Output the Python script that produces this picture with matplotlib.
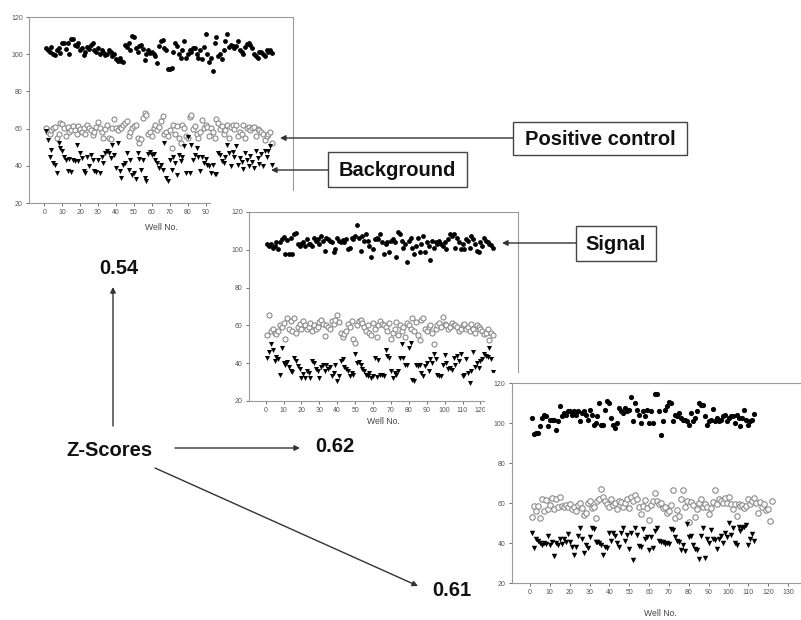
import matplotlib.pyplot as plt
from matplotlib.patches import Rectangle

plt.rcParams['font.family'] = ['Liberation Sans', 'DejaVu Sans']

# ---- data: three plates, well number vs. signal ----
sig1 = [103.5, 102.5, 101, 103.8, 100.2, 99.6, 102.3, 103.1, 100.4, 105.8,
        106.2, 102.9, 105.9, 100.3, 108.4, 108.1, 104.9, 104.2, 106.0, 102.1,
        103.4, 99.7, 101.2, 104.1, 103.0, 105.2, 106.1, 102.4, 101.3, 103.2,
        100.2, 102.2, 101.1, 99.6, 100.3, 102.1, 101.0, 99.1, 100.1, 97.2,
        96.1, 98.0, 96.3, 95.6, 105.2, 104.0, 106.2, 102.1, 109.6, 109.0,
        103.1, 101.2, 104.3, 105.1, 103.0, 97.1, 100.2, 102.1, 100.6, 101.0,
        100.1, 99.0, 95.4, 104.2, 107.0, 107.6, 103.1, 102.0, 92.1, 92.2,
        92.6, 101.1, 106.0, 104.2, 100.1, 98.2, 102.0, 107.3, 98.1, 100.2,
        102.0, 101.1, 103.2, 103.5, 100.2, 98.1, 102.2, 97.2, 104.0, 111.0,
        100.1, 96.0, 98.1, 91.0, 106.2, 109.4, 99.1, 100.3, 97.6, 102.0,
        107.1, 110.6, 104.1, 105.0, 104.2, 103.1, 104.3, 107.2, 102.1, 101.0,
        100.2, 104.1, 105.3, 106.1, 105.0, 103.2, 100.1, 99.2, 98.1, 101.0,
        101.2, 100.1, 99.0, 102.5, 101.1, 102.3, 100.5]
ctrl1 = [60.3, 58.1, 57.2, 59.0, 60.4, 61.1, 55.0, 57.3, 62.8, 62.5,
         60.1, 56.2, 61.0, 58.2, 59.1, 61.6, 59.0, 57.1, 61.2, 60.0,
         58.3, 60.2, 57.0, 62.1, 60.1, 59.2, 56.3, 58.0, 61.1, 63.8,
         60.2, 58.1, 55.2, 60.0, 62.2, 55.1, 54.3, 60.1, 64.9, 60.2,
         59.1, 61.0, 60.2, 62.0, 63.1, 64.0, 56.1, 58.0, 60.2, 61.2,
         61.8, 55.1, 52.3, 54.2, 65.7, 68.2, 67.1, 57.3, 58.0, 56.2,
         60.1, 62.0, 59.3, 61.0, 64.1, 66.6, 57.2, 58.1, 56.0, 59.2,
         49.6, 62.1, 57.0, 61.2, 55.1, 52.3, 62.0, 60.1, 56.2, 55.0,
         66.2, 67.1, 60.0, 61.2, 57.1, 55.2, 58.0, 64.4, 60.1, 62.0,
         61.1, 56.0, 60.2, 58.1, 55.0, 65.0, 63.1, 60.0, 61.2, 57.0,
         59.1, 62.0, 55.2, 61.1, 62.2, 60.0, 62.1, 56.2, 58.0, 57.1,
         62.0, 55.1, 60.2, 61.0, 59.2, 60.1, 61.0, 56.1, 60.0, 59.1,
         58.0, 57.2, 54.1, 56.2, 57.0, 58.1, 52.3]
bg1 = [58.5, 53.7, 45.0, 48.7, 41.5, 40.6, 36.0, 52.3, 49.6, 47.8,
       45.0, 43.3, 37.0, 43.8, 36.5, 43.3, 42.8, 51.4, 42.4, 46.9,
       44.1, 37.0, 36.0, 45.0, 39.7, 46.0, 43.2, 37.0, 36.5, 43.3,
       36.0, 45.0, 41.5, 46.9, 47.8, 46.9, 44.2, 51.4, 46.0, 38.8,
       52.3, 37.0, 33.4, 40.6, 41.5, 46.9, 38.0, 43.3, 35.2, 36.0,
       33.0, 46.9, 43.7, 38.0, 43.3, 33.4, 31.6, 46.5, 47.2, 46.0,
       46.5, 43.3, 41.5, 38.8, 40.6, 37.6, 52.3, 33.4, 31.6, 43.3,
       38.0, 45.0, 41.5, 35.2, 46.0, 42.4, 45.0, 50.5, 36.0, 55.5,
       36.0, 51.4, 43.3, 46.0, 49.6, 45.0, 37.0, 45.0, 41.5, 43.7,
       40.6, 39.7, 36.0, 40.6, 35.8, 35.8, 46.9, 46.0, 42.4, 41.5,
       45.0, 51.4, 46.9, 39.7, 47.2, 45.0, 50.5, 40.2, 44.1, 42.0,
       38.5, 47.0, 43.0, 40.1, 45.5, 42.2, 39.0, 48.0, 44.0, 41.2,
       46.5, 39.8, 47.9, 44.6, 48.2, 50.5, 40.2]

sig2 = [103.0, 102.1, 103.0, 101.2, 102.1, 103.9, 100.4, 103.9, 105.6, 106.8,
        97.7, 105.1, 97.7, 106.5, 97.7, 108.2, 109.1, 103.0, 102.1, 103.0,
        103.9, 102.1, 105.6, 103.0, 103.3, 102.1, 106.5, 104.7, 105.6, 103.0,
        107.4, 104.7, 99.5, 106.5, 105.6, 104.7, 103.9, 98.6, 100.4, 106.5,
        104.7, 103.9, 105.1, 103.9, 105.6, 100.4, 101.2, 106.5, 105.6, 107.4,
        113.0, 106.5, 99.5, 107.4, 104.7, 108.2, 104.7, 102.1, 96.0, 100.4,
        105.6, 106.5, 105.6, 108.2, 103.9, 97.7, 103.0, 103.9, 98.6, 104.7,
        105.6, 103.9, 96.0, 109.6, 108.2, 104.7, 101.2, 103.0, 93.7, 104.7,
        106.5, 101.2, 97.7, 102.1, 106.5, 98.6, 103.0, 107.4, 98.6, 103.9,
        102.1, 94.6, 104.7, 101.2, 103.9, 103.0, 104.7, 103.0, 102.1, 103.9,
        100.4, 105.6, 108.2, 107.4, 108.2, 101.2, 106.5, 103.9, 100.4, 103.0,
        100.4, 105.6, 104.7, 101.2, 107.4, 105.6, 103.0, 99.5, 98.6, 103.9,
        102.1, 106.5, 104.7, 103.9, 103.0, 102.6, 101.2]
ctrl2 = [55.0, 65.6, 57.2, 58.1, 56.0, 55.2, 57.1, 60.3, 59.0, 61.2,
         53.0, 64.1, 58.0, 62.1, 57.2, 64.0, 56.1, 59.2, 61.0, 58.2,
         62.2, 60.1, 58.0, 59.3, 61.1, 57.2, 60.0, 58.1, 59.2, 62.0,
         63.1, 61.0, 54.5, 60.2, 59.0, 58.1, 62.2, 61.0, 63.0, 65.7,
         62.0, 56.1, 54.0, 55.2, 57.1, 61.0, 59.2, 62.1, 53.0, 50.8,
         60.1, 62.2, 63.0, 61.1, 59.0, 57.2, 60.1, 56.0, 55.1, 61.2,
         58.0, 54.1, 60.2, 62.1, 61.0, 60.2, 59.1, 57.0, 61.2, 53.0,
         56.1, 58.2, 62.0, 55.1, 60.0, 57.2, 59.1, 54.0, 61.1, 60.2,
         58.0, 64.1, 57.2, 62.0, 55.1, 52.2, 63.0, 64.1, 58.0, 57.2,
         59.1, 60.2, 56.0, 50.2, 58.1, 60.0, 61.1, 59.0, 64.2, 61.0,
         60.1, 58.0, 59.2, 61.1, 60.0, 60.2, 59.1, 57.0, 58.2, 60.1,
         61.0, 58.1, 59.2, 57.1, 61.0, 58.0, 56.1, 60.2, 59.0, 58.1,
         57.0, 55.2, 56.1, 58.0, 52.5, 56.2, 55.1]
bg2 = [43.0, 46.0, 50.0, 47.0, 41.0, 43.5, 42.0, 34.0, 48.0, 40.0,
       39.0, 40.5, 38.0, 36.0, 35.5, 43.0, 41.0, 38.5, 37.0, 32.0,
       34.5, 32.0, 36.0, 35.0, 32.0, 41.0, 40.0, 37.0, 36.0, 32.0,
       38.0, 39.0, 36.0, 39.0, 37.0, 38.0, 33.0, 35.0, 39.0, 30.5,
       33.0, 41.0, 42.0, 38.0, 37.0, 36.0, 33.0, 35.0, 34.0, 45.0,
       40.0, 40.5, 39.0, 37.0, 36.0, 34.0, 33.0, 35.0, 32.0, 33.0,
       43.0, 32.5, 41.5, 33.5, 34.0, 33.0, 47.0, 44.0, 43.0, 36.0,
       32.0, 35.0, 34.0, 36.0, 43.0, 50.0, 43.0, 39.0, 39.0, 48.0,
       50.5, 31.0, 30.5, 39.0, 38.5, 39.0, 35.0, 33.0, 38.5, 40.0,
       36.0, 42.0, 40.0, 45.0, 42.0, 34.0, 33.0, 33.0, 39.0, 44.5,
       40.0, 37.0, 37.5, 36.5, 43.0, 39.0, 44.0, 41.0, 45.0, 33.0,
       34.0, 42.0, 35.0, 29.5, 36.0, 46.0, 38.0, 40.0, 37.5, 41.0,
       42.0, 45.0, 44.0, 43.5, 48.0, 42.0, 35.2]

sig3 = [102.4, 94.6, 94.9, 95.0, 98.3, 102.4, 104.1, 103.6, 98.3, 101.6,
        101.6, 101.6, 96.6, 100.8, 108.6, 103.6, 105.0, 104.1, 105.8, 105.8,
        104.1, 105.8, 104.1, 105.8, 100.8, 105.0, 105.8, 104.1, 101.6, 106.6,
        104.1, 99.1, 99.9, 103.3, 110.0, 99.1, 99.1, 106.6, 110.8, 110.0,
        102.4, 99.1, 97.4, 99.9, 107.5, 105.8, 105.0, 107.5, 105.8, 106.6,
        112.8, 100.8, 110.0, 106.6, 104.1, 99.9, 105.8, 103.3, 106.6, 99.9,
        105.8, 99.9, 114.6, 114.6, 105.8, 94.1, 100.8, 106.6, 108.3, 110.3,
        110.0, 100.8, 104.1, 103.3, 105.0, 102.4, 101.6, 101.6, 100.8, 99.1,
        105.0, 100.8, 102.4, 105.8, 110.0, 109.1, 109.1, 103.3, 99.1, 100.8,
        101.6, 107.0, 100.8, 102.4, 100.8, 101.6, 103.3, 104.1, 100.8, 102.4,
        103.6, 103.3, 99.9, 104.1, 102.4, 98.3, 102.4, 106.3, 101.6, 99.1,
        100.8, 101.6, 104.6]
ctrl3 = [53.0, 58.5, 56.0, 58.5, 52.5, 62.0, 56.0, 61.5, 57.0, 59.0,
         62.5, 57.0, 62.0, 58.0, 63.0, 58.5, 58.0, 59.0, 58.0, 59.5,
         57.0, 58.0, 56.0, 59.0, 60.0, 57.5, 54.0, 55.0, 60.0, 61.0,
         57.5, 58.0, 52.5, 61.0, 62.0, 67.0, 63.0, 61.0, 59.5, 58.0,
         62.0, 59.0, 60.0, 57.0, 61.0, 60.5, 58.0, 60.0, 62.0, 57.5,
         63.0, 61.0, 64.0, 62.0, 58.0, 54.5, 58.5, 61.5, 57.5, 51.5,
         59.0, 61.0, 65.0, 61.0, 59.5, 60.0, 57.5, 58.0, 55.0, 56.0,
         59.0, 66.5, 52.5, 56.5, 53.5, 62.0, 66.5, 58.0, 61.0, 50.5,
         60.5, 59.0, 53.0, 57.0, 60.0, 62.0, 58.0, 59.5, 58.0, 54.5,
         57.5, 60.5, 66.5, 59.5, 62.0, 61.0, 60.0, 62.5, 60.0, 63.0,
         59.5, 57.0, 59.5, 53.5, 59.5, 58.5, 59.0, 57.5, 58.5, 62.0,
         59.5, 61.0, 62.5, 60.0, 55.0, 60.5, 58.0, 59.5, 56.5, 57.0,
         51.0, 61.0]
bg3 = [45.0, 37.5, 42.0, 41.0, 40.0, 39.0, 40.0, 39.5, 43.5, 39.0,
       40.5, 33.5, 40.0, 39.0, 42.0, 39.5, 42.0, 40.5, 44.5, 40.5,
       38.0, 34.0, 38.0, 43.5, 47.5, 42.0, 35.0, 39.0, 37.5, 43.0,
       47.5, 47.0, 40.5, 40.5, 40.0, 39.0, 34.0, 38.0, 37.5, 45.0,
       41.0, 45.0, 43.5, 40.0, 38.0, 45.0, 47.5, 41.0, 44.0, 37.0,
       45.0, 31.5, 47.5, 44.0, 38.5, 38.0, 47.0, 42.0, 43.0, 36.5,
       43.0, 37.5, 46.0, 47.5, 41.0, 40.5, 40.5, 39.5, 40.0, 39.5,
       47.0, 46.5, 43.0, 41.0, 40.5, 36.5, 39.0, 36.0, 49.5, 43.0,
       43.5, 39.0, 37.0, 36.5, 32.0, 43.5, 47.5, 32.5, 42.0, 40.0,
       46.5, 42.0, 41.5, 37.0, 42.0, 43.5, 40.0, 45.0, 43.0, 50.0,
       44.0, 47.5, 40.0, 39.0, 48.0, 46.0, 47.5, 48.0, 49.0, 39.0,
       42.0, 44.5, 41.0]

W, H = 801, 620
fig = plt.figure(figsize=(W / 100, H / 100), dpi=100)


def cover(x0, y0, x1, y1, z):
    """white sheet of the pasted image, hides what lies below it"""
    fig.add_artist(Rectangle((x0 / W, 1 - y1 / H), (x1 - x0) / W, (y1 - y0) / H,
                             transform=fig.transFigure, facecolor='white',
                             edgecolor='none', zorder=z))


def panel(left, top, right, bottom, xlim, xmax, sig, ctrl, bg, z, ms, labelpad):
    ax = fig.add_axes([left / W, 1 - bottom / H, (right - left) / W, (bottom - top) / H])
    ax.set_zorder(z)
    ax.scatter(range(1, len(ctrl) + 1), ctrl, s=ms * 1.1, facecolor='white',
               edgecolor='#8a8a8a', linewidth=0.8, zorder=2)
    ax.scatter(range(1, len(bg) + 1), bg, s=ms * 1.1, marker='v', color='black',
               linewidth=0, zorder=3)
    ax.scatter(range(1, len(sig) + 1), sig, s=ms, color='black', linewidth=0, zorder=3)
    ax.set_xlim(*xlim)
    ax.set_ylim(20, 120)
    ax.set_xticks(range(0, xmax + 1, 10))
    ax.set_yticks(range(20, 121, 20))
    for sp in ax.spines.values():
        sp.set_color('#9a9a9a')
        sp.set_linewidth(0.8)
    ax.tick_params(labelsize=5, colors='#555555', length=2.5, width=0.6, pad=2)
    ax.set_xlabel('Well No.', fontsize=6.2, color='#444444', labelpad=labelpad)
    return ax


# panel 1 ticks past 90 lie under the second image, so they are left out
panel(29, 17, 293, 203, (-8.5, 138.7), 90, sig1, ctrl1, bg1, 1, 12, 5)
cover(211, 191, 530, 440, 2)
panel(249, 212, 518, 401, (-9.3, 141), 120, sig2, ctrl2, bg2, 3, 12, 2)
cover(485, 373, 801, 620, 4)
panel(511.5, 383, 810, 583, (-9.3, 141), 130, sig3, ctrl3, bg3, 5, 14, 9)

# overlay in pixel units for the labels and arrows
ov = fig.add_axes([0, 0, 1, 1])
ov.set_zorder(10)
ov.set_xlim(0, W)
ov.set_ylim(H, 0)
ov.axis('off')
ov.patch.set_visible(False)

arrow = dict(arrowstyle='-|>', mutation_scale=8, lw=1, color='#333333',
             shrinkA=0, shrinkB=0)
bold = dict(fontsize=14.5, fontweight='bold', color='#111111',
            ha='center', va='center')

boxes = [('Positive control', 513, 122, 687, 155, (280, 138)),
         ('Background', 328, 152, 467, 187, (271, 170)),
         ('Signal', 576, 226, 656, 261, (502, 243))]
for txt, x0, y0, x1, y1, tip in boxes:
    ov.add_patch(Rectangle((x0, y0), x1 - x0, y1 - y0, facecolor='white',
                           edgecolor='#444444', lw=1))
    ov.text((x0 + x1) / 2, (y0 + y1) / 2 + 1, txt, **bold)
    ov.annotate('', xy=tip, xytext=(x0, tip[1]), arrowprops=arrow)

ov.text(109.5, 450, 'Z-Scores', **bold)
ov.text(118.5, 268, '0.54', **bold)
ov.text(334.5, 446, '0.62', **bold)
ov.text(451.5, 591, '0.61', **bold)
ov.annotate('', xy=(113, 287), xytext=(113, 426), arrowprops=arrow)
ov.annotate('', xy=(300, 448), xytext=(175, 448), arrowprops=arrow)
ov.annotate('', xy=(418, 586), xytext=(155, 468), arrowprops=arrow)

fig.savefig('out.png', dpi=100)
